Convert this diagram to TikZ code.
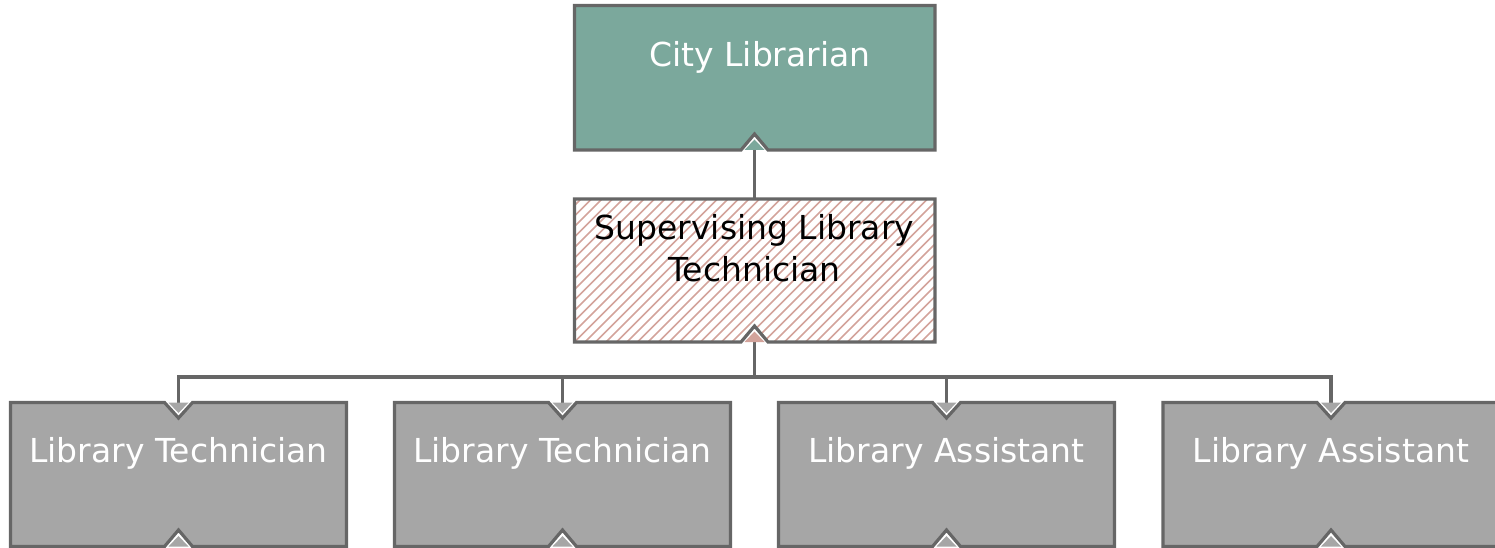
\documentclass[tikz,border=0pt]{standalone}
\usepackage{fontspec}
\setmainfont{DejaVu Sans}
\definecolor{edgegray}{HTML}{666666}
\definecolor{cityfill}{HTML}{7BA89C}
\definecolor{staffgray}{HTML}{A6A6A6}
\definecolor{hatchpink}{HTML}{D3A39B}
\tikzset{
  boxline/.style={draw=edgegray, line width=3.2pt, line join=miter},
  conn/.style={draw=edgegray, line width=3.2pt, line join=miter},
  boxtext/.style={font=\fontsize{33}{40}\selectfont, anchor=base, inner sep=0pt},
}
\begin{document}
\begin{tikzpicture}[x=1pt,y=-1pt]
\useasboundingbox (0,0) rectangle (1495,548);
\clip (0,0) rectangle (1495,548);

% named connection points
\coordinate (cityS) at (754.5,150);
\coordinate (supN) at (754.5,199);
\coordinate (supS) at (754.5,342);
\coordinate (busC) at (754.5,377);
\foreach \i/\cx in {1/178.5,2/562.5,3/946.5,4/1331}{
  \coordinate (b\i N) at (\cx,402.5);
  \coordinate (bus\i) at (\cx,377);
}

% connectors
\draw[conn] (cityS) -- (supN);
\draw[conn] (supS) -- (busC);
\draw[conn] (b1N) -- (bus1) -- (bus4) -- (b4N);
\foreach \i in {2,3}{ \draw[conn] (bus\i) -- (b\i N); }

% City Librarian box
\path[fill=cityfill] (574.5,5.5) -- (935,5.5) -- (935,150) -- (768,150) -- (754.5,134) -- (741,150) -- (574.5,150) -- cycle;
\path[boxline] (574.5,5.5) -- (935,5.5) -- (935,150) -- (768,150) -- (754.5,134) -- (741,150) -- (574.5,150) -- cycle;
\fill[cityfill] (744.5,150) -- (754.5,139.5) -- (764.5,150) -- cycle;
\node[boxtext, text=white] (city) at (760,67) {City Librarian};

% Supervising box (hatched)
\begin{scope}
  \clip (574.5,199) -- (935,199) -- (935,342) -- (768,342) -- (754.5,326) -- (741,342) -- (574.5,342) -- cycle;
  \foreach \k in {-160,...,50}{
    \draw[hatchpink, line width=1.5pt] (574.5+\k*10.5,342) -- ++(160,-160);
  }
\end{scope}
\path[boxline] (574.5,199) -- (935,199) -- (935,342) -- (768,342) -- (754.5,326) -- (741,342) -- (574.5,342) -- cycle;
\fill[hatchpink] (744.5,342) -- (754.5,331.5) -- (764.5,342) -- cycle;
\node[boxtext, text=black] (sup1) at (754.5,239) {Supervising Library};
\node[boxtext, text=black] (sup2) at (754.5,281) {Technician};

% Bottom boxes
\foreach \i/\cx/\txt in {1/178.5/Library Technician,2/562.5/Library Technician,3/946.5/Library Assistant,4/1331/Library Assistant}{
  \path[fill=staffgray] (\cx-168,402.5) -- (\cx-14,402.5) -- (\cx,418) -- (\cx+14,402.5) -- (\cx+168,402.5)
     -- (\cx+168,546.5) -- (\cx+14,546.5) -- (\cx,530) -- (\cx-14,546.5) -- (\cx-168,546.5) -- cycle;
  \path[boxline] (\cx-168,402.5) -- (\cx-14,402.5) -- (\cx,418) -- (\cx+14,402.5) -- (\cx+168,402.5)
     -- (\cx+168,546.5) -- (\cx+14,546.5) -- (\cx,530) -- (\cx-14,546.5) -- (\cx-168,546.5) -- cycle;
  \fill[staffgray] (\cx-10,402.5) -- (\cx,413) -- (\cx+10,402.5) -- cycle;
  \fill[staffgray] (\cx-10,546.5) -- (\cx,536) -- (\cx+10,546.5) -- cycle;
  \node[boxtext, text=white] (staff\i) at (\cx,462) {\txt};
}
\end{tikzpicture}
\end{document}
